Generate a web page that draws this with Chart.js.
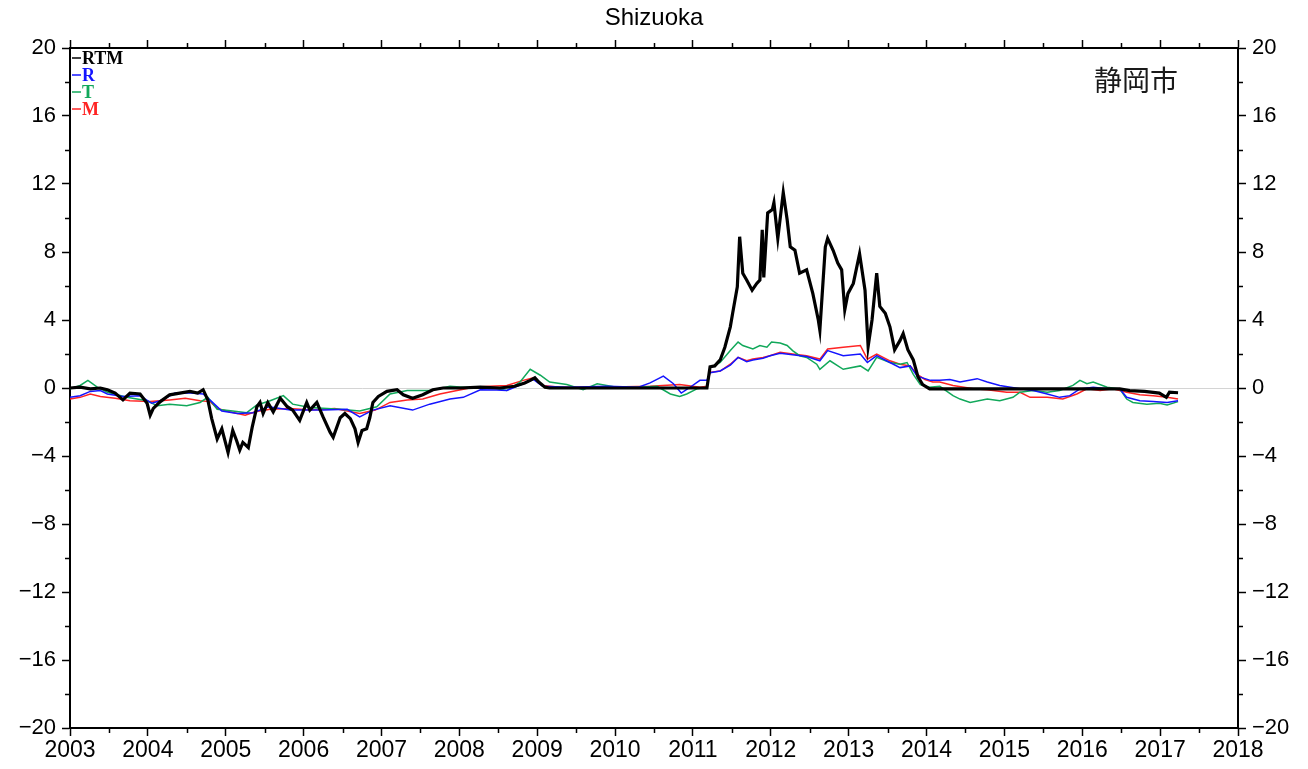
<!DOCTYPE html>
<html>
<head>
<meta charset="utf-8">
<title>Shizuoka</title>
<script src="https://cdn.jsdelivr.net/npm/chart.js@4.4.1/dist/chart.umd.min.js"></script>
<style>
  html, body { margin: 0; padding: 0; background: #fff; }
  canvas { display: block; }
</style>
</head>
<body>
<canvas id="chart" width="1308" height="769"></canvas>
<script>
// --- data: [decimal year, value] ---
const rtmPoints = [
  [2003.00, 0], [2003.13, 0.05], [2003.26, -0.05], [2003.39, 0], [2003.48, -0.1], [2003.58, -0.3],
  [2003.68, -0.7], [2003.77, -0.3], [2003.90, -0.35], [2003.99, -0.9], [2004.03, -1.6], [2004.07, -1.2],
  [2004.16, -0.8], [2004.28, -0.4], [2004.41, -0.3], [2004.54, -0.2], [2004.64, -0.3], [2004.71, -0.1],
  [2004.77, -0.7], [2004.82, -1.8], [2004.89, -3.0], [2004.95, -2.4], [2005.03, -3.8], [2005.09, -2.5],
  [2005.14, -3.1], [2005.18, -3.65], [2005.22, -3.2], [2005.29, -3.5], [2005.34, -2.3], [2005.40, -1.1],
  [2005.44, -0.85], [2005.48, -1.5], [2005.54, -0.85], [2005.61, -1.4], [2005.70, -0.6], [2005.79, -1.1],
  [2005.86, -1.3], [2005.95, -1.9], [2006.04, -0.85], [2006.08, -1.3], [2006.17, -0.85], [2006.25, -1.7],
  [2006.34, -2.6], [2006.38, -2.9], [2006.47, -1.75], [2006.53, -1.5], [2006.60, -1.8], [2006.66, -2.4],
  [2006.70, -3.2], [2006.75, -2.5], [2006.81, -2.4], [2006.85, -1.75], [2006.89, -0.85], [2006.96, -0.5],
  [2007.07, -0.2], [2007.20, -0.1], [2007.28, -0.4], [2007.40, -0.6], [2007.53, -0.4], [2007.66, -0.1],
  [2007.79, 0], [2008.01, 0], [2008.27, 0.05], [2008.52, 0], [2008.71, 0.1], [2008.84, 0.3],
  [2008.91, 0.45], [2008.97, 0.6], [2009.02, 0.35], [2009.10, 0.05], [2009.16, 0], [2009.81, 0],
  [2010.45, 0], [2010.96, 0], [2011.18, 0], [2011.22, 1.25], [2011.28, 1.3], [2011.35, 1.65],
  [2011.41, 2.4], [2011.48, 3.6], [2011.51, 4.4], [2011.57, 5.95], [2011.60, 8.9], [2011.64, 6.75],
  [2011.69, 6.35], [2011.76, 5.75], [2011.82, 6.15], [2011.86, 6.35], [2011.89, 9.3], [2011.91, 6.5],
  [2011.96, 10.3], [2012.02, 10.5], [2012.04, 10.9], [2012.09, 8.8], [2012.16, 11.5], [2012.21, 9.9],
  [2012.25, 8.3], [2012.31, 8.1], [2012.37, 6.75], [2012.46, 6.95], [2012.54, 5.55], [2012.61, 4.0],
  [2012.63, 3.4], [2012.70, 8.3], [2012.73, 8.8], [2012.80, 8.1], [2012.86, 7.35], [2012.91, 6.95],
  [2012.95, 4.6], [2012.99, 5.55], [2013.06, 6.15], [2013.14, 7.9], [2013.21, 5.75], [2013.25, 2.45],
  [2013.30, 4.0], [2013.36, 6.75], [2013.40, 4.8], [2013.47, 4.4], [2013.53, 3.6], [2013.59, 2.25],
  [2013.66, 2.8], [2013.70, 3.2], [2013.76, 2.25], [2013.83, 1.65], [2013.89, 0.65], [2013.95, 0.2],
  [2014.04, -0.05], [2014.94, -0.05], [2015.58, -0.05], [2016.23, -0.05], [2016.48, -0.05], [2016.61, -0.15],
  [2016.80, -0.2], [2016.99, -0.3], [2017.08, -0.55], [2017.12, -0.25], [2017.23, -0.28]
];

const rPoints = [
  [2003.00, -0.55], [2003.13, -0.45], [2003.26, -0.2], [2003.39, -0.15], [2003.48, -0.35], [2003.68, -0.5],
  [2003.90, -0.45], [2004.05, -0.9], [2004.16, -0.75], [2004.35, -0.3], [2004.55, -0.3], [2004.71, -0.35],
  [2004.82, -0.8], [2004.95, -1.35], [2005.15, -1.5], [2005.35, -1.45], [2005.55, -1.1], [2005.83, -1.3],
  [2006.25, -1.3], [2006.56, -1.25], [2006.72, -1.7], [2006.89, -1.3], [2007.11, -1.05], [2007.40, -1.3],
  [2007.62, -0.95], [2007.88, -0.65], [2008.05, -0.55], [2008.27, -0.1], [2008.48, -0.12], [2008.61, -0.15],
  [2008.82, 0.25], [2008.95, 0.5], [2009.07, 0.1], [2009.40, 0.05], [2009.90, 0.1], [2010.30, 0.05],
  [2010.45, 0.3], [2010.62, 0.7], [2010.75, 0.25], [2010.85, -0.3], [2010.95, 0], [2011.09, 0.45],
  [2011.18, 0.45], [2011.22, 0.9], [2011.35, 1.0], [2011.48, 1.35], [2011.58, 1.8], [2011.69, 1.55],
  [2011.77, 1.65], [2011.90, 1.75], [2011.99, 1.9], [2012.12, 2.05], [2012.28, 1.95], [2012.46, 1.85],
  [2012.63, 1.6], [2012.73, 2.2], [2012.93, 1.9], [2013.15, 2.0], [2013.24, 1.5], [2013.36, 1.9],
  [2013.53, 1.5], [2013.66, 1.2], [2013.79, 1.3], [2013.88, 0.7], [2014.05, 0.45], [2014.17, 0.45],
  [2014.30, 0.5], [2014.43, 0.35], [2014.65, 0.55], [2014.78, 0.35], [2014.94, 0.15], [2015.20, -0.05],
  [2015.37, -0.15], [2015.55, -0.35], [2015.71, -0.55], [2015.84, -0.45], [2015.97, -0.05], [2016.14, 0.05],
  [2016.32, -0.05], [2016.48, -0.05], [2016.57, -0.55], [2016.74, -0.75], [2016.91, -0.8], [2017.09, -0.85],
  [2017.23, -0.75]
];

const tPoints = [
  [2003.00, -0.05], [2003.13, 0.15], [2003.23, 0.45], [2003.35, 0.05], [2003.48, -0.25], [2003.73, -0.55],
  [2003.99, -0.75], [2004.12, -1.05], [2004.28, -0.95], [2004.50, -1.05], [2004.67, -0.85], [2004.77, -0.55],
  [2004.89, -1.25], [2005.09, -1.35], [2005.27, -1.45], [2005.40, -1.0], [2005.57, -0.75], [2005.74, -0.45],
  [2005.86, -0.95], [2006.08, -1.15], [2006.47, -1.25], [2006.72, -1.35], [2006.94, -1.1], [2007.11, -0.35],
  [2007.33, -0.15], [2007.62, -0.15], [2007.88, 0.1], [2008.05, 0.05], [2008.39, 0.05], [2008.61, -0.15],
  [2008.78, 0.35], [2008.91, 1.1], [2009.04, 0.75], [2009.16, 0.35], [2009.38, 0.2], [2009.59, -0.1],
  [2009.77, 0.25], [2010.02, 0.05], [2010.28, 0.05], [2010.54, 0.1], [2010.71, -0.35], [2010.83, -0.5],
  [2010.92, -0.35], [2011.05, -0.05], [2011.18, 0.05], [2011.22, 1.2], [2011.35, 1.5], [2011.48, 2.2],
  [2011.58, 2.7], [2011.64, 2.5], [2011.77, 2.3], [2011.86, 2.5], [2011.95, 2.4], [2012.01, 2.7],
  [2012.12, 2.65], [2012.21, 2.5], [2012.28, 2.2], [2012.37, 1.9], [2012.46, 1.8], [2012.59, 1.4],
  [2012.63, 1.1], [2012.76, 1.6], [2012.93, 1.1], [2013.15, 1.3], [2013.25, 1.0], [2013.36, 1.8],
  [2013.53, 1.5], [2013.66, 1.4], [2013.75, 1.5], [2013.83, 0.8], [2013.92, 0.2], [2014.04, 0.05],
  [2014.17, 0.1], [2014.34, -0.45], [2014.43, -0.65], [2014.56, -0.85], [2014.78, -0.65], [2014.94, -0.75],
  [2015.11, -0.55], [2015.20, -0.25], [2015.37, -0.15], [2015.55, -0.25], [2015.71, -0.15], [2015.88, 0.15],
  [2015.97, 0.45], [2016.06, 0.25], [2016.14, 0.35], [2016.32, 0.05], [2016.48, -0.05], [2016.57, -0.65],
  [2016.65, -0.85], [2016.83, -0.95], [2016.99, -0.9], [2017.09, -1.0], [2017.23, -0.8]
];

const mPoints = [
  [2003.00, -0.65], [2003.13, -0.55], [2003.26, -0.35], [2003.39, -0.5], [2003.58, -0.6], [2003.77, -0.75],
  [2004.03, -0.8], [2004.28, -0.7], [2004.48, -0.6], [2004.67, -0.75], [2004.80, -0.8], [2004.89, -1.2],
  [2005.05, -1.4], [2005.25, -1.6], [2005.38, -1.4], [2005.57, -1.25], [2005.83, -1.2], [2006.08, -1.3],
  [2006.40, -1.2], [2006.72, -1.5], [2006.92, -1.3], [2007.11, -0.85], [2007.33, -0.7], [2007.53, -0.65],
  [2007.75, -0.35], [2007.97, -0.15], [2008.18, 0.05], [2008.39, 0.1], [2008.61, 0.15], [2008.82, 0.45],
  [2008.95, 0.6], [2009.07, 0.15], [2009.29, 0.05], [2009.81, 0.05], [2010.45, 0.1], [2010.83, 0.2],
  [2011.09, 0.05], [2011.18, 0.1], [2011.22, 0.92], [2011.35, 1.0], [2011.48, 1.4], [2011.58, 1.8],
  [2011.69, 1.6], [2011.77, 1.7], [2011.90, 1.8], [2011.99, 1.9], [2012.12, 2.1], [2012.28, 2.0],
  [2012.46, 1.9], [2012.63, 1.7], [2012.73, 2.3], [2012.93, 2.4], [2013.15, 2.5], [2013.24, 1.7],
  [2013.36, 2.0], [2013.53, 1.6], [2013.66, 1.4], [2013.79, 1.3], [2013.88, 0.8], [2013.98, 0.5],
  [2014.08, 0.35], [2014.17, 0.35], [2014.34, 0.15], [2014.60, -0.05], [2014.78, -0.1], [2015.03, -0.25],
  [2015.20, -0.25], [2015.33, -0.55], [2015.55, -0.55], [2015.75, -0.65], [2015.93, -0.35], [2016.06, -0.05],
  [2016.23, -0.15], [2016.39, -0.05], [2016.57, -0.25], [2016.74, -0.4], [2016.91, -0.45], [2017.09, -0.55],
  [2017.23, -0.65]
];

const seriesNames = ['RTM', 'R', 'T', 'M'];
const seriesColors = ['#000000', '#1414ff', '#11a85a', '#ff2424'];
const yearTicks = [2003, 2018];
const valueRange = [-20, 20];
const titleText = 'Shizuoka';
const placeName = '静岡市';

const sans = '"Liberation Sans", Arial, Helvetica, sans-serif';
const fmt = v => (v < 0 ? '\u2212' + Math.abs(v) : String(v));

// minor ticks, legend and place name
const extras = {
  id: 'extras',
  afterDraw(chart) {
    const ctx = chart.ctx;
    const a = chart.chartArea;
    const xs = chart.scales.x, ys = chart.scales.y;
    ctx.save();
    ctx.strokeStyle = '#000';
    ctx.lineWidth = 1.5;
    ctx.beginPath();
    for (let v = yearTicks[0] + 0.5; v < yearTicks[1]; v += 1) {
      const px = Math.round(xs.getPixelForValue(v)) + 0.5;
      ctx.moveTo(px, a.bottom); ctx.lineTo(px, a.bottom + 5);
      ctx.moveTo(px, a.top); ctx.lineTo(px, a.top - 5);
    }
    for (let v = valueRange[0] + 2; v < valueRange[1]; v += 4) {
      const py = Math.round(ys.getPixelForValue(v)) + 0.5;
      ctx.moveTo(a.left, py); ctx.lineTo(a.left - 5, py);
      ctx.moveTo(a.right, py); ctx.lineTo(a.right + 5, py);
    }
    ctx.stroke();

    // legend
    ctx.font = 'bold 18px "Liberation Serif", "Times New Roman", serif';
    ctx.textBaseline = 'middle';
    seriesNames.forEach((name, i) => {
      const y = a.top + 10 + i * 17;
      ctx.strokeStyle = seriesColors[i];
      ctx.fillStyle = seriesColors[i];
      ctx.lineWidth = 1.5;
      ctx.beginPath();
      ctx.moveTo(a.left + 2, y); ctx.lineTo(a.left + 11, y);
      ctx.stroke();
      ctx.fillText(name, a.left + 12, y + 1);
    });

    ctx.font = '28px "Noto Sans CJK JP", sans-serif';
    ctx.fillStyle = '#1a1a1a';
    ctx.textAlign = 'center';
    ctx.fillText(placeName, 1136, 80);
    ctx.restore();
  }
};

const datasets = [rtmPoints, rPoints, tPoints, mPoints].map((pts, i) => ({
  label: seriesNames[i],
  data: pts.map(p => ({ x: p[0], y: p[1] })),
  borderColor: seriesColors[i],
  borderWidth: i === 0 ? 3.2 : 1.5,
  pointRadius: 0,
  tension: 0,
  fill: false,
  xAxisID: 'x',
  yAxisID: 'y'
}));

const xFont = { family: sans, size: 23 };
const yFont = { family: sans, size: 22 };
const border = { display: true, color: '#000', width: 2 };

new Chart(document.getElementById('chart'), {
  type: 'line',
  data: { datasets },
  options: {
    responsive: false,
    devicePixelRatio: 1,
    animation: false,
    layout: { padding: 0 },
    plugins: {
      legend: { display: false },
      tooltip: { enabled: false },
      title: {
        display: true,
        text: titleText,
        color: '#000',
        font: { family: sans, size: 24, weight: 'normal' },
        padding: { top: 4, bottom: 0 }
      }
    },
    scales: {
      x: {
        type: 'linear', position: 'bottom',
        min: yearTicks[0], max: yearTicks[1],
        border,
        grid: { drawOnChartArea: false, tickLength: 8, tickColor: '#000', tickWidth: 1.5 },
        ticks: { stepSize: 1, color: '#000', font: xFont, padding: 1, maxRotation: 0, callback: v => String(v) },
        afterFit: s => { s.height = 41; }
      },
      x2: {
        type: 'linear', position: 'top',
        min: yearTicks[0], max: yearTicks[1],
        border,
        grid: { drawOnChartArea: false, tickLength: 8, tickColor: '#000', tickWidth: 1.5 },
        ticks: { stepSize: 1, display: false },
        afterFit: s => { s.height = 15.2; }
      },
      y: {
        type: 'linear', position: 'left',
        min: valueRange[0], max: valueRange[1],
        border,
        grid: {
          drawOnChartArea: true,
          color: c => (c.tick && c.tick.value === 0 ? '#d4d4d4' : 'rgba(0,0,0,0)'),
          tickColor: '#000', tickWidth: 1.5, tickLength: 8
        },
        ticks: { stepSize: 4, color: '#000', font: yFont, padding: 6, callback: fmt },
        afterFit: s => { s.width = 70; }
      },
      y2: {
        type: 'linear', position: 'right',
        min: valueRange[0], max: valueRange[1],
        border,
        grid: { drawOnChartArea: false, tickColor: '#000', tickWidth: 1.5, tickLength: 8 },
        ticks: { stepSize: 4, color: '#000', font: yFont, padding: 6, callback: fmt },
        afterFit: s => { s.width = 70; }
      }
    }
  },
  plugins: [extras]
});
</script>
</body>
</html>
